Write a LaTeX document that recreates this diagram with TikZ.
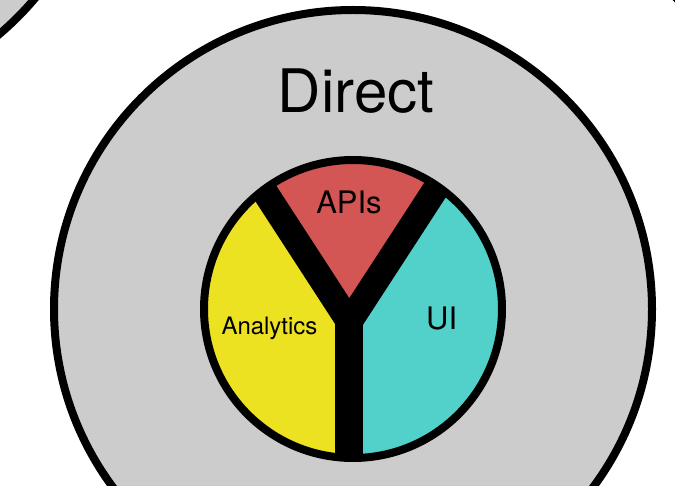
\documentclass[tikz,border=0pt]{standalone}
\usepackage{fontspec}
\setmainfont{TeX Gyre Heros}
\definecolor{greyfill}{HTML}{CCCCCC}
\definecolor{yellowfill}{HTML}{EDE221}
\definecolor{redfill}{HTML}{D35654}
\definecolor{cyanfill}{HTML}{52D1CB}
\begin{document}
\begin{tikzpicture}[x=1pt,y=-1pt,
  ring/.style={draw=black,line width=8pt},
  yband/.style={draw=black,line width=26pt,line join=miter},
  stemband/.style={draw=black,line width=28pt},
  lbl/.style={anchor=base,inner sep=0pt,text=black}]
\useasboundingbox (0,0) rectangle (675,486);
\clip (0,0) rectangle (675,486);
\fill[white] (0,0) rectangle (675,486);
% neighbouring circles (partly visible)
\draw[ring,fill=greyfill] (-194,-194) circle[radius=299];
\draw[ring,fill=greyfill] (888,-213) circle[radius=299];
% outer circle
\draw[ring,fill=greyfill] (353,309) circle[radius=299];
% inner circle segments
\coordinate (J) at (349.3,322);
\coordinate (AL) at (213.05,112.25);
\coordinate (AR) at (485.55,112.25);
\coordinate (SB) at (349.3,480);
\begin{scope}
  \clip (353,309) circle[radius=149];
  \fill[yellowfill] (190,150) rectangle (349.3,470);
  \fill[cyanfill] (349.3,150) rectangle (515,470);
  \fill[redfill] (J) -- (AL) -- (AR) -- cycle;
  \draw[yband] (AL) -- (J) -- (AR);
  \draw[stemband] (J) -- (SB);
\end{scope}
\draw[ring] (353,309) circle[radius=149];
% labels
\node[lbl,font=\fontsize{60}{62}\selectfont] (direct) at (356,113) {Direct};
\node[lbl,font=\fontsize{31}{33}\selectfont] (apis) at (349,214) {APIs};
\node[lbl,font=\fontsize{31}{33}\selectfont] (ui) at (441.7,329.3) {UI};
\node[lbl,font=\fontsize{24}{26}\selectfont] (analytics) at (269.5,335) {Analytics};
\end{tikzpicture}
\end{document}
